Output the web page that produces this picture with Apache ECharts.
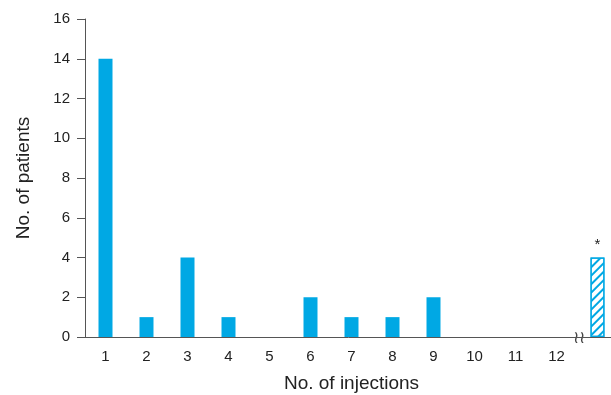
<!DOCTYPE html>
<html><head><meta charset="utf-8">
<script src="https://cdn.jsdelivr.net/npm/echarts@6/dist/echarts.min.js"></script>
<style>html,body{margin:0;padding:0;background:#fff}#c{width:611px;height:395px}</style>
</head><body><div id="c"></div>
<script>
const categories = ['1','2','3','4','5','6','7','8','9','10','11','12',''];
const patients = [14,1,4,1,0,2,1,1,2,0,0,0,4];
const yTicks = {min:0, max:16, interval:2};
const blue = '#00a8e4';
const chart = echarts.init(document.getElementById('c'));
const data = patients.map((v,i)=> i===12 ? {
  value:v,
  itemStyle:{color:'#fff', borderColor:blue, borderWidth:1.2,
    decal:{symbol:'rect', color:blue, dashArrayX:[1,0], dashArrayY:[1.3,3.7], rotation:-Math.PI/4, symbolSize:1}},
  label:{show:true, position:'top', formatter:'*', fontSize:15, color:'#222', distance:5}
} : v);
chart.setOption({
  animation:false,
  aria:{enabled:false},
  grid:{left:85, top:19, bottom:58, width:533, outerBoundsMode:'none', containLabel:false},
  xAxis:{type:'category', data:categories, name:'No. of injections', nameLocation:'middle', nameGap:37,
    nameTextStyle:{fontFamily:'Liberation Sans', fontSize:19, color:'#222'},
    axisLine:{lineStyle:{color:'#555', width:1}}, axisTick:{show:false},
    axisLabel:{fontFamily:'Liberation Sans', fontSize:15, color:'#222', margin:12}},
  yAxis:{type:'value', min:yTicks.min, max:yTicks.max, interval:yTicks.interval, name:'No. of patients', nameLocation:'middle', nameGap:52,
    nameTextStyle:{fontFamily:'Liberation Sans', fontSize:19, color:'#222'},
    axisLine:{show:true, lineStyle:{color:'#555', width:1}}, axisTick:{show:true, length:8, lineStyle:{color:'#555'}},
    splitLine:{show:false},
    axisLabel:{fontFamily:'Liberation Sans', fontSize:15, color:'#222', margin:15}},
  series:[{type:'bar', data:data, barWidth:14, itemStyle:{color:blue}}]
});
const p1 = chart.convertToPixel({xAxisIndex:0}, 11);
const p2 = chart.convertToPixel({xAxisIndex:0}, 12);
const py = chart.convertToPixel({yAxisIndex:0}, 0);
chart.setOption({graphic:[{type:'text', x:(p1+p2)/2 + 2, y:py+2, style:{text:'≀≀', fontFamily:'DejaVu Serif', fontSize:17, fill:'#444', align:'center', verticalAlign:'middle'}}]});
</script></body></html>
